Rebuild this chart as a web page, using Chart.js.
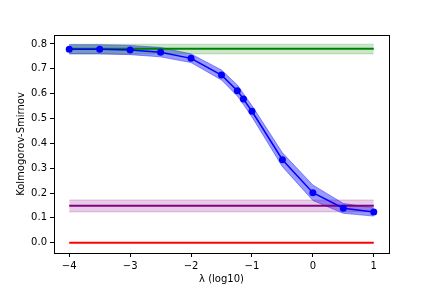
<!DOCTYPE html>
<html>
<head>
<meta charset="utf-8">
<script src="https://cdn.jsdelivr.net/npm/chart.js@4"></script>
<style>
html,body{margin:0;padding:0;background:#fff;}
#wrap{width:432px;height:288px;}
</style>
</head>
<body>
<div id="wrap"><canvas id="c" width="432" height="288"></canvas></div>
<script>
// ---- data ----
const lambdaLog = [-4, -3.5, -3, -2.5, -2, -1.5, -1.24, -1.14, -1, -0.5, 0, 0.5, 1];
const ksMean  = [0.779, 0.779, 0.776, 0.767, 0.742, 0.675, 0.612, 0.578, 0.529, 0.334, 0.201, 0.139, 0.124];
const ksUpper = [0.797, 0.797, 0.794, 0.786, 0.760, 0.695, 0.635, 0.600, 0.552, 0.362, 0.232, 0.158, 0.140];
const ksLower = [0.760, 0.760, 0.757, 0.748, 0.725, 0.655, 0.590, 0.556, 0.506, 0.306, 0.170, 0.118, 0.107];
const greenRange = [-4, 1];
const greenMean = 0.781, greenUpper = 0.799, greenLower = 0.760;
const purpleMean = 0.149, purpleUpper = 0.172, purpleLower = 0.124;
const redValue = 0.0;
const xTicks = [-4, -3, -2, -1, 0, 1];
const yTicks = [0.0, 0.1, 0.2, 0.3, 0.4, 0.5, 0.6, 0.7, 0.8];
const xLabel = 'λ (log10)';
const yLabel = 'Kolmogorov-Smirnov';

const pts = (xs, ys) => xs.map((x, i) => ({x: x, y: ys[i]}));
const flat = v => greenRange.map(x => ({x: x, y: v}));

const datasets = [
  // 0 blue lower
  {data: pts(lambdaLog, ksLower), borderColor: 'rgba(0,0,255,0.4)', borderWidth: 1, pointRadius: 0, fill: false, order: 10},
  // 1 blue upper -> fill to 0
  {data: pts(lambdaLog, ksUpper), borderColor: 'rgba(0,0,255,0.4)', borderWidth: 1, pointRadius: 0,
   fill: {target: 0}, backgroundColor: 'rgba(0,0,255,0.4)', order: 9},
  // 2 green lower
  {data: flat(greenLower), borderColor: 'rgba(0,128,0,0.2)', borderWidth: 1, pointRadius: 0, fill: false, order: 8},
  // 3 green upper
  {data: flat(greenUpper), borderColor: 'rgba(0,128,0,0.2)', borderWidth: 1, pointRadius: 0,
   fill: {target: 2}, backgroundColor: 'rgba(0,128,0,0.2)', order: 7},
  // 4 purple lower
  {data: flat(purpleLower), borderColor: 'rgba(128,0,128,0.2)', borderWidth: 1, pointRadius: 0, fill: false, order: 6},
  // 5 purple upper
  {data: flat(purpleUpper), borderColor: 'rgba(128,0,128,0.2)', borderWidth: 1, pointRadius: 0,
   fill: {target: 4}, backgroundColor: 'rgba(128,0,128,0.2)', order: 5},
  // 6 green line
  {data: flat(greenMean), borderColor: '#008000', borderWidth: 2, pointRadius: 0, fill: false, order: 4},
  // 7 purple line
  {data: flat(purpleMean), borderColor: '#800080', borderWidth: 2, pointRadius: 0, fill: false, order: 3},
  // 8 red line
  {data: flat(redValue), borderColor: '#ff0000', borderWidth: 2, pointRadius: 0, fill: false, order: 2},
  // 9 blue mean line with markers
  {data: pts(lambdaLog, ksMean), borderColor: '#0000ff', borderWidth: 1.5, pointRadius: 3.5,
   pointBackgroundColor: '#0000ff', pointBorderWidth: 0, fill: false, order: 1}
];

const frame = {
  id: 'frame',
  afterDraw(chart) {
    const {ctx, chartArea: a} = chart;
    ctx.save();
    ctx.strokeStyle = '#000';
    ctx.lineWidth = 1;
    ctx.strokeRect(Math.round(a.left) + 0.5, Math.round(a.top) + 0.5,
                   Math.round(a.right - a.left), Math.round(a.bottom - a.top));
    ctx.restore();
  }
};

const font = {family: 'DejaVu Sans', size: 10};
new Chart(document.getElementById('c'), {
  type: 'scatter',
  data: {datasets: datasets.map(d => Object.assign({showLine: true, tension: 0}, d))},
  options: {
    responsive: false,
    animation: false,
    devicePixelRatio: 1,
    layout: {padding: {top: 35, right: 43, left: 0, bottom: 0}},
    plugins: {legend: {display: false}, tooltip: {enabled: false}},
    scales: {
      x: {
        type: 'linear', min: -4.25, max: 1.25,
        afterBuildTicks: s => { s.ticks = xTicks.map(v => ({value: v})); },
        afterFit: s => { s.height = 35; },
        grid: {drawOnChartArea: false, tickLength: 4, tickColor: '#000', color: '#000'},
        border: {color: '#000', width: 1},
        ticks: {color: '#000', font: font, padding: 3, maxRotation: 0,
                callback: v => String(v).replace('-', '\u2212')},
        title: {display: true, text: xLabel, color: '#000', font: font, padding: {top: 0, bottom: 3}}
      },
      y: {
        type: 'linear', min: -0.0415, max: 0.836,
        afterBuildTicks: s => { s.ticks = yTicks.map(v => ({value: v})); },
        afterFit: s => { s.width = 54; },
        grid: {drawOnChartArea: false, tickLength: 4, tickColor: '#000', color: '#000'},
        border: {color: '#000', width: 1},
        ticks: {color: '#000', font: font, padding: 3, callback: v => Number(v).toFixed(1)},
        title: {display: true, text: yLabel, color: '#000', font: font, padding: {top: 15, bottom: 0}}
      }
    }
  },
  plugins: [frame]
});
</script>
</body>
</html>
